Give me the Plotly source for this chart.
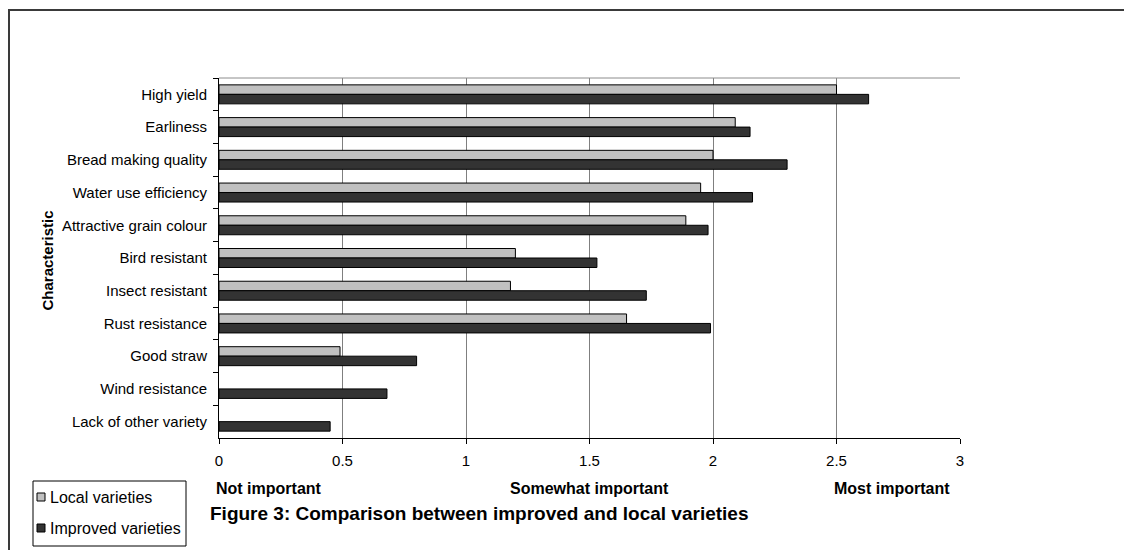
import plotly.graph_objects as go

categories = ["High yield", "Earliness", "Bread making quality", "Water use efficiency",
              "Attractive grain colour", "Bird resistant", "Insect resistant",
              "Rust resistance", "Good straw", "Wind resistance", "Lack of other variety"]
local_values = [2.50, 2.09, 2.00, 1.95, 1.89, 1.20, 1.18, 1.65, 0.49, None, None]
improved_values = [2.63, 2.15, 2.30, 2.16, 1.98, 1.53, 1.73, 1.99, 0.80, 0.68, 0.45]
series_names = ["Local varieties", "Improved varieties"]
series_colors = ["#c0c0c0", "#333333"]
x_ticks = [0, 0.5, 1, 1.5, 2, 2.5, 3]
x_tick_labels = ["0", "0.5", "1", "1.5", "2", "2.5", "3"]
scale_labels = ["Not important", "Somewhat important", "Most important"]

# page body adds an 8px offset; work in screen coordinates
OFF = 8
W, H = 1132 - OFF, 550 - OFF
SL, SR, ST, SB = 219, 960, 78, 438          # plot area in screen px
L, T = SL - OFF, ST - OFF
R, B = W - (SR - OFF), H - (SB - OFF)
PW, PH = SR - SL, SB - ST


def px(xs):
    return (xs - SL) / PW


def py(ys):
    return (SB - ys) / PH


FONT = "Arial, Liberation Sans, sans-serif"

fig = go.Figure()
for name, vals, col in zip(series_names, [local_values, improved_values], series_colors):
    fig.add_trace(go.Bar(y=categories, x=vals, orientation="h", name=name,
                         marker=dict(color=col, line=dict(color="#000000", width=1))))

fig.update_layout(
    width=W, height=H,
    margin=dict(l=L, r=R, t=T, b=B, autoexpand=False),
    paper_bgcolor="white", plot_bgcolor="white",
    barmode="group", bargap=0.42, bargroupgap=0,
    font=dict(family=FONT, size=15, color="#000000"),
    showlegend=False,
    xaxis=dict(range=[0, 3], tickvals=x_ticks, ticktext=x_tick_labels,
               showgrid=True, gridcolor="#7f7f7f", gridwidth=1,
               showline=True, linecolor="#000000", linewidth=1,
               ticks="outside", ticklen=5, tickcolor="#000000",
               ticklabelstandoff=4,
               zeroline=False, fixedrange=True,
               tickfont=dict(family=FONT, size=15, color="#000000")),
    yaxis=dict(type="category", autorange="reversed",
               showgrid=False, showline=True, linecolor="#000000", linewidth=1,
               ticks="outside", ticklen=5, tickcolor="#000000", tickson="boundaries",
               ticklabelstandoff=8,
               fixedrange=True,
               tickfont=dict(family=FONT, size=15, color="#000000")),
)

# top border of plot area (gray)
fig.add_shape(type="line", xref="paper", yref="paper", x0=0, x1=1, y0=1, y1=1,
              line=dict(color="#8c8c8c", width=1))
# outer frame
fig.add_shape(type="rect", xref="paper", yref="paper",
              x0=px(9), x1=px(1150), y0=py(570), y1=py(10),
              line=dict(color="#3a3a3a", width=2), layer="below")

# y-axis title
fig.add_annotation(text="<b>Characteristic</b>", xref="paper", yref="paper",
                   x=px(36), y=py(261), textangle=-90, showarrow=False,
                   font=dict(family=FONT, size=15, color="#000000"))

# scale labels below axis
for lbl, xl in zip(scale_labels, [214, 508, 832]):
    fig.add_annotation(text="<b>" + lbl + "</b>", xref="paper", yref="paper",
                       x=px(xl), y=py(488), xanchor="left", yanchor="middle",
                       showarrow=False, font=dict(family=FONT, size=16, color="#000000"))

# figure caption
fig.add_annotation(text="<b>Figure 3: Comparison between improved and local varieties</b>",
                   xref="paper", yref="paper", x=px(208), y=py(513),
                   xanchor="left", yanchor="middle", showarrow=False,
                   font=dict(family=FONT, size=19, color="#000000"))

# legend box (drawn manually to match the small-swatch style)
fig.add_shape(type="rect", xref="paper", yref="paper",
              x0=px(33), x1=px(186), y0=py(546), y1=py(481),
              line=dict(color="#000000", width=1), fillcolor="white")
for i, (name, col) in enumerate(zip(series_names, series_colors)):
    yc = 497 + i * 31
    fig.add_shape(type="rect", xref="paper", yref="paper",
                  x0=px(37), x1=px(45), y0=py(yc + 4), y1=py(yc - 4),
                  line=dict(color="#000000", width=1), fillcolor=col)
    fig.add_annotation(text=name, xref="paper", yref="paper",
                       x=px(48), y=py(yc), xanchor="left", yanchor="middle",
                       showarrow=False, font=dict(family=FONT, size=16, color="#000000"))

fig.write_html("out.html")
